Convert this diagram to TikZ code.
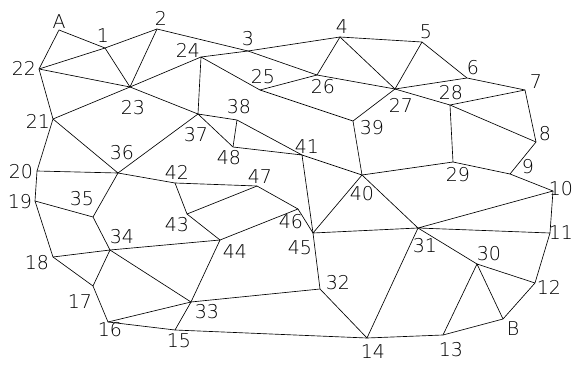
\documentclass[tikz,border=0pt]{standalone}
\usepackage{fontspec}
\setmainfont{DejaVu Sans ExtraLight}
\usepackage{tikz}

\begin{document}
\begin{tikzpicture}[
    x=1pt, y=-1pt,
    line width=0.65pt,
    line join=round,
    font=\fontsize{19}{19}\selectfont,
    tag/.style={
        inner sep=0pt,
        text=black
    }
]
    \useasboundingbox (0,0) rectangle (574,367);

    \coordinate (pA) at (59,30);
    \coordinate (p1) at (105,48);
    \coordinate (p2) at (157,29);
    \coordinate (p3) at (248,51);
    \coordinate (p4) at (340,37);
    \coordinate (p5) at (422,42);
    \coordinate (p6) at (467,78);
    \coordinate (p7) at (525,90);
    \coordinate (p8) at (536,142);
    \coordinate (p9) at (510,174);
    \coordinate (p10) at (553,191);
    \coordinate (p11) at (550,233);
    \coordinate (p12) at (535,283);
    \coordinate (pB) at (503,319);
    \coordinate (p13) at (443,335);
    \coordinate (p14) at (367,338);
    \coordinate (p15) at (175,330);
    \coordinate (p16) at (108,322);
    \coordinate (p17) at (93,286);
    \coordinate (p18) at (53,257);
    \coordinate (p19) at (35,201);
    \coordinate (p20) at (37,171);
    \coordinate (p21) at (53,119);
    \coordinate (p22) at (39,69);
    \coordinate (p23) at (130,87);
    \coordinate (p24) at (201,57);
    \coordinate (p25) at (260,90);
    \coordinate (p26) at (317,75);
    \coordinate (p27) at (395,89);
    \coordinate (p28) at (450,105);
    \coordinate (p29) at (453,162);
    \coordinate (p30) at (477,264);
    \coordinate (p31) at (418,228);
    \coordinate (p32) at (320,289);
    \coordinate (p33) at (191,302);
    \coordinate (p34) at (110,250);
    \coordinate (p35) at (93,217);
    \coordinate (p36) at (118,173);
    \coordinate (p37) at (198,114);
    \coordinate (p38) at (237,120);
    \coordinate (p39) at (353,121);
    \coordinate (p40) at (362,175);
    \coordinate (p41) at (302,155);
    \coordinate (p42) at (175,183);
    \coordinate (p43) at (187,214);
    \coordinate (p44) at (220,240);
    \coordinate (p45) at (313,233);
    \coordinate (p46) at (298,209);
    \coordinate (p47) at (257,186);
    \coordinate (p48) at (233,147);

    \node[tag] (tA) at (59,22) {A};
    \node[tag] (t1) at (103,36) {1};
    \node[tag] (t2) at (161,18) {2};
    \node[tag] (t3) at (248,39) {3};
    \node[tag] (t4) at (342,27) {4};
    \node[tag] (t5) at (426,32) {5};
    \node[tag] (t6) at (473,68) {6};
    \node[tag] (t7) at (536,82) {7};
    \node[tag] (t8) at (545,134) {8};
    \node[tag] (t9) at (528,167) {9};
    \node[tag] (t10) at (561,189) {10};
    \node[tag] (t11) at (561,233) {11};
    \node[tag] (t12) at (549,287) {12};
    \node[tag] (tB) at (513,329) {B};
    \node[tag] (t13) at (451,350) {13};
    \node[tag] (t14) at (373,352) {14};
    \node[tag] (t15) at (179,341) {15};
    \node[tag] (t16) at (110,330) {16};
    \node[tag] (t17) at (80,302) {17};
    \node[tag] (t18) at (37,263) {18};
    \node[tag] (t19) at (20,202) {19};
    \node[tag] (t20) at (21,172) {20};
    \node[tag] (t21) at (38,121) {21};
    \node[tag] (t22) at (24,68) {22};
    \node[tag] (t23) at (133,108) {23};
    \node[tag] (t24) at (188,50) {24};
    \node[tag] (t25) at (263,77) {25};
    \node[tag] (t26) at (323,87) {26};
    \node[tag] (t27) at (401,105) {27};
    \node[tag] (t28) at (451,93) {28};
    \node[tag] (t29) at (458,175) {29};
    \node[tag] (t30) at (489,254) {30};
    \node[tag] (t31) at (425,246) {31};
    \node[tag] (t32) at (338,283) {32};
    \node[tag] (t33) at (207,312) {33};
    \node[tag] (t34) at (122,237) {34};
    \node[tag] (t35) at (82,199) {35};
    \node[tag] (t36) at (122,153) {36};
    \node[tag] (t37) at (196,135) {37};
    \node[tag] (t38) at (239,107) {38};
    \node[tag] (t39) at (372,128) {39};
    \node[tag] (t40) at (362,194) {40};
    \node[tag] (t41) at (307,147) {41};
    \node[tag] (t42) at (177,172) {42};
    \node[tag] (t43) at (177,225) {43};
    \node[tag] (t44) at (235,252) {44};
    \node[tag] (t45) at (300,248) {45};
    \node[tag] (t46) at (291,222) {46};
    \node[tag] (t47) at (260,177) {47};
    \node[tag] (t48) at (229,158) {48};

    \draw (pA) -- (p1) -- (p2) -- (p3) -- (p4) -- (p5) -- (p6) -- (p7) -- (p8) -- (p9) -- (p10) -- (p11) -- (p12) -- (pB) -- (p13) -- (p14) -- (p15) -- (p16) -- (p17) -- (p18) -- (p19) -- (p20) -- (p21) -- (p22) -- cycle;
    \draw (p22) -- (p1) -- (p23) -- (p22);
    \draw (p2) -- (p23) -- (p21);
    \draw (p23) -- (p24) -- (p3) -- (p26) -- (p4) -- (p27) -- (p5);
    \draw (p6) -- (p27) -- (p26) -- (p25) -- (p24) -- (p37) -- (p23);
    \draw (p7) -- (p28) -- (p8);
    \draw (p27) -- (p28) -- (p29) -- (p9);
    \draw (p27) -- (p39) -- (p25);
    \draw (p39) -- (p40) -- (p29);
    \draw (p10) -- (p31) -- (p11);
    \draw (p12) -- (p30) -- (pB);
    \draw (p13) -- (p30) -- (p31) -- (p14) -- (p32);
    \draw (p31) -- (p40) -- (p45) -- (p31);
    \draw (p40) -- (p41) -- (p45) -- (p32) -- (p33) -- (p15);
    \draw (p16) -- (p33) -- (p34) -- (p17);
    \draw (p18) -- (p34) -- (p35) -- (p19);
    \draw (p20) -- (p36) -- (p21);
    \draw (p35) -- (p36) -- (p37) -- (p38) -- (p41) -- (p48) -- (p37);
    \draw (p38) -- (p48);
    \draw (p36) -- (p42) -- (p47) -- (p46) -- (p45);
    \draw (p42) -- (p43) -- (p47);
    \draw (p43) -- (p44) -- (p46);
    \draw (p34) -- (p44) -- (p33);
\end{tikzpicture}
\end{document}
